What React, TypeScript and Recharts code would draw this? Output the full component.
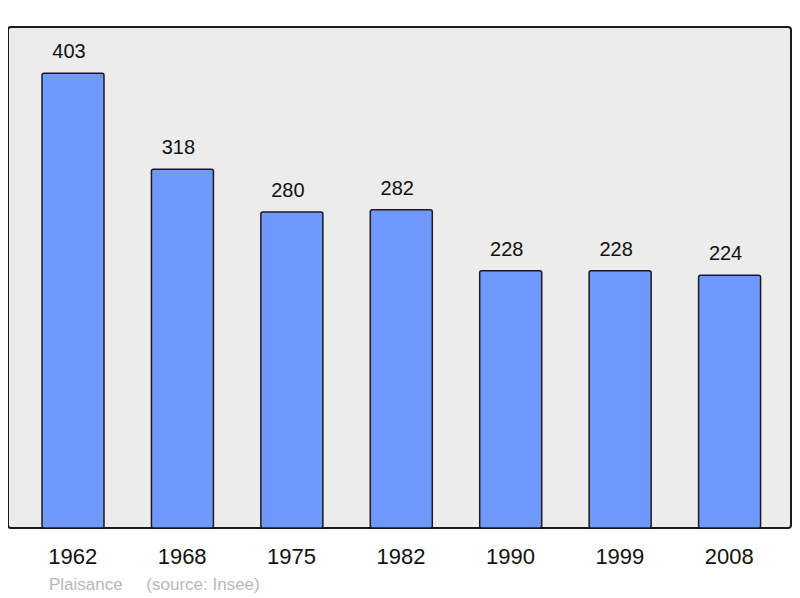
import { BarChart, Bar, XAxis, YAxis, CartesianGrid, LabelList } from "recharts"

const years = ["1962", "1968", "1975", "1982", "1990", "1999", "2008"]
const population = [403, 318, 280, 282, 228, 228, 224]

const data = years.map((year, i) => ({ year, population: population[i] }))

const font = "'Liberation Sans', Arial, sans-serif"

export default function App() {
  return (
    <BarChart
      width={784}
      height={590}
      data={data}
      margin={{ top: 19, right: 1, left: 0, bottom: 30 }}
      style={{ fontFamily: font }}
    >
      <CartesianGrid fill="#ececec" horizontal={false} vertical={false} />
      <rect x={0} y={19} width={783} height={501} rx={3} fill="none" stroke="#1a1a1a" strokeWidth={2} />
      <XAxis
        dataKey="year"
        height={40}
        padding={{ left: 10, right: 7 }}
        axisLine={false}
        tickLine={false}
        tickMargin={14}
        tick={{ fill: "#111", fontSize: 22, fontFamily: font }}
      />
      <YAxis hide domain={[0, 444]} />
      <Bar
        dataKey="population"
        barSize={62}
        fill="#7099ff"
        stroke="#1a1a1a"
        strokeWidth={1.5}
        radius={2}
        isAnimationActive={false}
      >
        <LabelList dataKey="population" position="top" offset={15} dx={-4} fill="#111" fontSize={20} fontFamily={font} />
      </Bar>
      <text x={41} y={582} fill="#b8b8b8" fontSize={17} fontFamily={font}>
        Plaisance{"\u00a0\u00a0\u00a0\u00a0\u00a0"}(source: Insee)
      </text>
    </BarChart>
  )
}
